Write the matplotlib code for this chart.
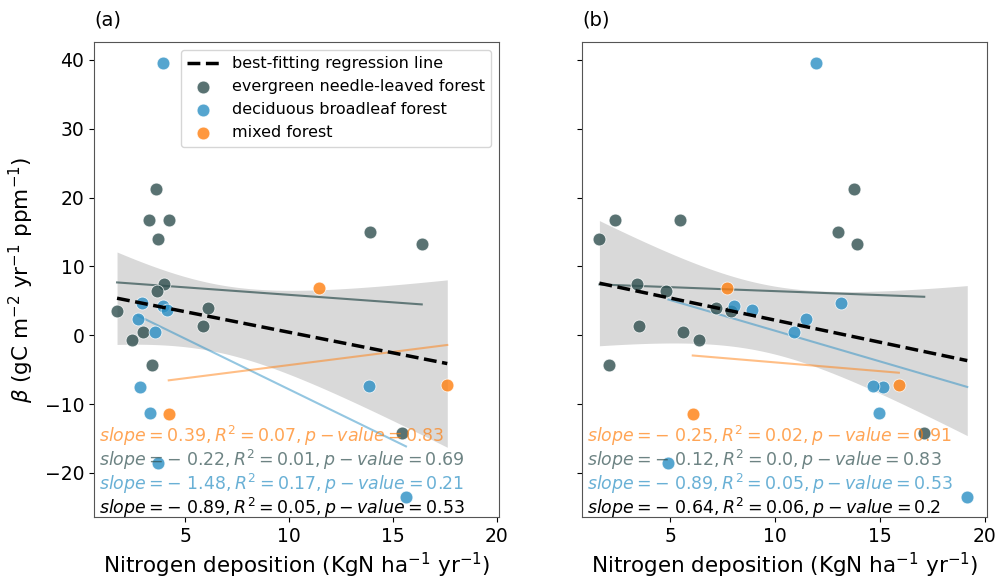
import numpy as np
import matplotlib
matplotlib.use("Agg")
import matplotlib.pyplot as plt

# beta values per forest type (same in both panels)
enf_beta = [21.2, 16.8, 16.8, 14.05, 15.07, 13.2, 7.5, 6.4, 3.5, 3.9, 1.3, 0.44, -0.63, -4.36, -14.15]
dbf_beta = [39.5, 4.7, 4.2, 3.6, 2.4, 0.44, -7.56, -7.4, -11.3, -18.6, -23.5]
mf_beta = [6.93, -7.17, -11.5]

# nitrogen deposition, panel (a)
enf_ndep_a = [3.57, 3.25, 4.23, 3.67, 13.89, 16.38, 3.98, 3.64, 1.71, 6.07, 5.86, 2.96, 2.42, 3.41, 15.41]
dbf_ndep_a = [3.94, 2.93, 3.9, 4.1, 2.71, 3.54, 2.8, 13.86, 3.29, 3.67, 15.62]
mf_ndep_a = [11.41, 17.61, 4.2]

# nitrogen deposition, panel (b)
enf_ndep_b = [13.76, 2.35, 5.48, 1.63, 12.98, 13.89, 3.44, 4.79, 7.89, 7.17, 3.51, 5.6, 6.4, 2.11, 17.11]
dbf_ndep_b = [11.95, 13.13, 8.06, 8.9, 11.48, 10.92, 15.16, 14.67, 14.97, 4.92, 19.16]
mf_ndep_b = [7.73, 15.9, 6.08]

# statistics printed in the panels: (slope, R2, p-value)
stats_a = {"mf": ("0.39", "0.07", "0.83"), "enf": ("-0.22", "0.01", "0.69"),
           "dbf": ("-1.48", "0.17", "0.21"), "all": ("-0.89", "0.05", "0.53")}
stats_b = {"mf": ("-0.25", "0.02", "0.91"), "enf": ("-0.12", "0.0", "0.83"),
           "dbf": ("-0.89", "0.05", "0.53"), "all": ("-0.64", "0.06", "0.2")}

labels = {"enf": "evergreen needle-leaved forest", "dbf": "deciduous broadleaf forest",
          "mf": "mixed forest"}
colors = {"enf": "#2f4f4f", "dbf": "#2a8fc4", "mf": "#ff7f0e", "all": "black"}


def fit_line(x, y):
    x = np.asarray(x)
    y = np.asarray(y)
    b, a = np.polyfit(x, y, 1)
    xs = np.linspace(x.min(), x.max(), 100)
    return xs, a + b * xs


def conf_band(x, y, xs):
    # 95% confidence band of the regression mean
    x = np.asarray(x)
    y = np.asarray(y)
    n = len(x)
    b, a = np.polyfit(x, y, 1)
    resid = y - (a + b * x)
    s = np.sqrt(np.sum(resid ** 2) / (n - 2))
    t = 2.05
    se = s * np.sqrt(1 / n + (xs - x.mean()) ** 2 / np.sum((x - x.mean()) ** 2))
    yhat = a + b * xs
    return yhat - t * se, yhat + t * se


def panel(ax, xdata, stats, title, legend):
    all_x = np.concatenate([xdata[k] for k in ("enf", "dbf", "mf")])
    all_y = np.concatenate([enf_beta, dbf_beta, mf_beta])
    xs, ys = fit_line(all_x, all_y)
    lo, hi = conf_band(all_x, all_y, xs)
    ax.fill_between(xs, lo, hi, color="#d9d9d9", lw=0, zorder=1)
    ax.plot(xs, ys, "--", color="black", lw=2.5, zorder=4,
            label="best-fitting regression line")

    ydata = {"enf": enf_beta, "dbf": dbf_beta, "mf": mf_beta}
    for k in ("enf", "dbf", "mf"):
        ax.scatter(xdata[k], ydata[k], s=85, color=colors[k], alpha=0.8,
                   edgecolor="white", linewidth=0.6, zorder=3, label=labels[k])
    line_alpha = {"enf": 0.7, "dbf": 0.5, "mf": 0.5}
    for k in ("enf", "dbf", "mf"):
        lx, ly = fit_line(xdata[k], ydata[k])
        ax.plot(lx, ly, color=colors[k], alpha=line_alpha[k], lw=1.5, zorder=2)

    order = ["mf", "enf", "dbf", "all"]
    for i, k in enumerate(order):
        sl, r2, pv = stats[k]
        sl = sl.replace("-", "-\\ ") if sl.startswith("-") else sl
        txt = r"$slope = %s, R^2 = %s, p-value = %s$" % (sl, r2, pv)
        ax.text(0.012, 0.17 - i * 0.0505, txt, transform=ax.transAxes,
                color=colors[k], alpha=0.7 if k != "all" else 1.0,
                fontsize=12.5, va="center", ha="left", zorder=5)

    ax.set_xlim(0.6, 20.1)
    ax.set_ylim(-26.4, 42.6)
    ax.set_xticks([5, 10, 15, 20])
    ax.set_yticks([-20, -10, 0, 10, 20, 30, 40])
    ax.tick_params(labelsize=13.5)
    ax.set_xlabel(r"Nitrogen deposition (KgN ha$^{-1}$ yr$^{-1}$)", fontsize=15.5)
    ax.set_title(title, loc="left", fontsize=14, pad=12)
    for sp in ax.spines.values():
        sp.set_color("#555555")
    if legend:
        ax.legend(loc="upper right", fontsize=11.5, framealpha=0.8)


fig = plt.figure(figsize=(10.01, 5.84), dpi=100)
ax1 = fig.add_axes([0.0939, 0.1147, 0.4046, 0.8134])
ax2 = fig.add_axes([0.5814, 0.1147, 0.4046, 0.8134], sharey=ax1)

panel(ax1, {"enf": enf_ndep_a, "dbf": dbf_ndep_a, "mf": mf_ndep_a}, stats_a, "(a)", True)
panel(ax2, {"enf": enf_ndep_b, "dbf": dbf_ndep_b, "mf": mf_ndep_b}, stats_b, "(b)", False)
ax2.set_xlim(0.8, 20.1)
ax2.tick_params(labelleft=False)
ax1.set_ylabel(r"$\beta$ (gC m$^{-2}$ yr$^{-1}$ ppm$^{-1}$)", fontsize=15.5, labelpad=6)

fig.savefig("out.png", dpi=100)
